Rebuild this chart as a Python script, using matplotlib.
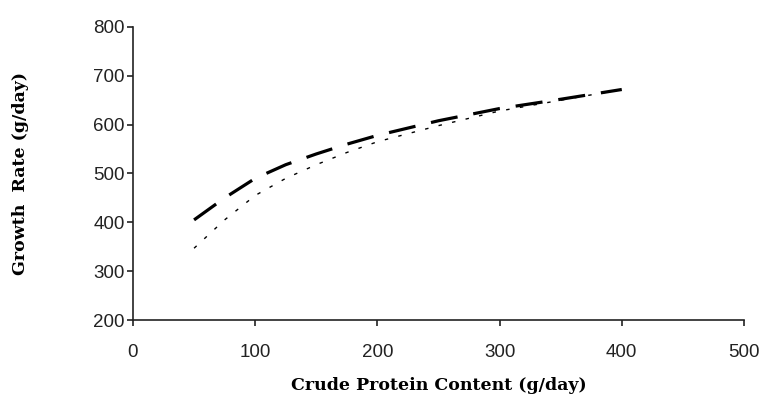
# Growth rate vs crude protein content - two fitted response curves
import numpy as np
import matplotlib
matplotlib.use("Agg")
import matplotlib.pyplot as plt

# Data
protein = [50, 75, 100, 125, 150, 175, 200, 250, 300, 350, 400]
growth_dashed = [405, 450, 490, 518, 540, 560, 578, 608, 633, 652, 672]
growth_dotted = [347, 405, 455, 490, 518, 543, 565, 598, 628, 650, 672]

x_ticks = [0, 100, 200, 300, 400, 500]
y_ticks = [200, 300, 400, 500, 600, 700, 800]

fig = plt.figure(figsize=(7.7, 4.12), dpi=100)
ax = fig.add_axes([0.1727, 0.2233, 0.7935, 0.7112])

# Thick long-dash curve and thin dotted curve
ax.plot(protein, growth_dashed, color="black", linewidth=2.3,
        dashes=(8.5, 5), solid_capstyle="butt")
ax.plot(protein, growth_dotted, color="black", linewidth=1.0,
        dashes=(2.5, 7.5))

ax.set_xlim(0, 500)
ax.set_ylim(200, 800)
ax.set_xticks(x_ticks)
ax.set_yticks(y_ticks)

ax.spines["top"].set_visible(False)
ax.spines["right"].set_visible(False)
for side in ["left", "bottom"]:
    ax.spines[side].set_linewidth(1.2)
    ax.spines[side].set_color("#222222")

ax.tick_params(direction="out", length=4, width=1.2, color="#222222",
               labelsize=13.5, labelcolor="#222222")
ax.tick_params(axis="x", pad=13)
ax.tick_params(axis="y", pad=2)
for lab in ax.get_xticklabels() + ax.get_yticklabels():
    lab.set_family("Liberation Sans")

ax.set_xlabel("Crude Protein Content (g/day)", fontfamily="DejaVu Serif",
              fontweight="bold", fontsize=12.5, labelpad=12)
ax.set_ylabel("Growth  Rate (g/day)", fontfamily="DejaVu Serif",
              fontweight="bold", fontsize=12.5, labelpad=46)

fig.savefig("out.png", dpi=100)
